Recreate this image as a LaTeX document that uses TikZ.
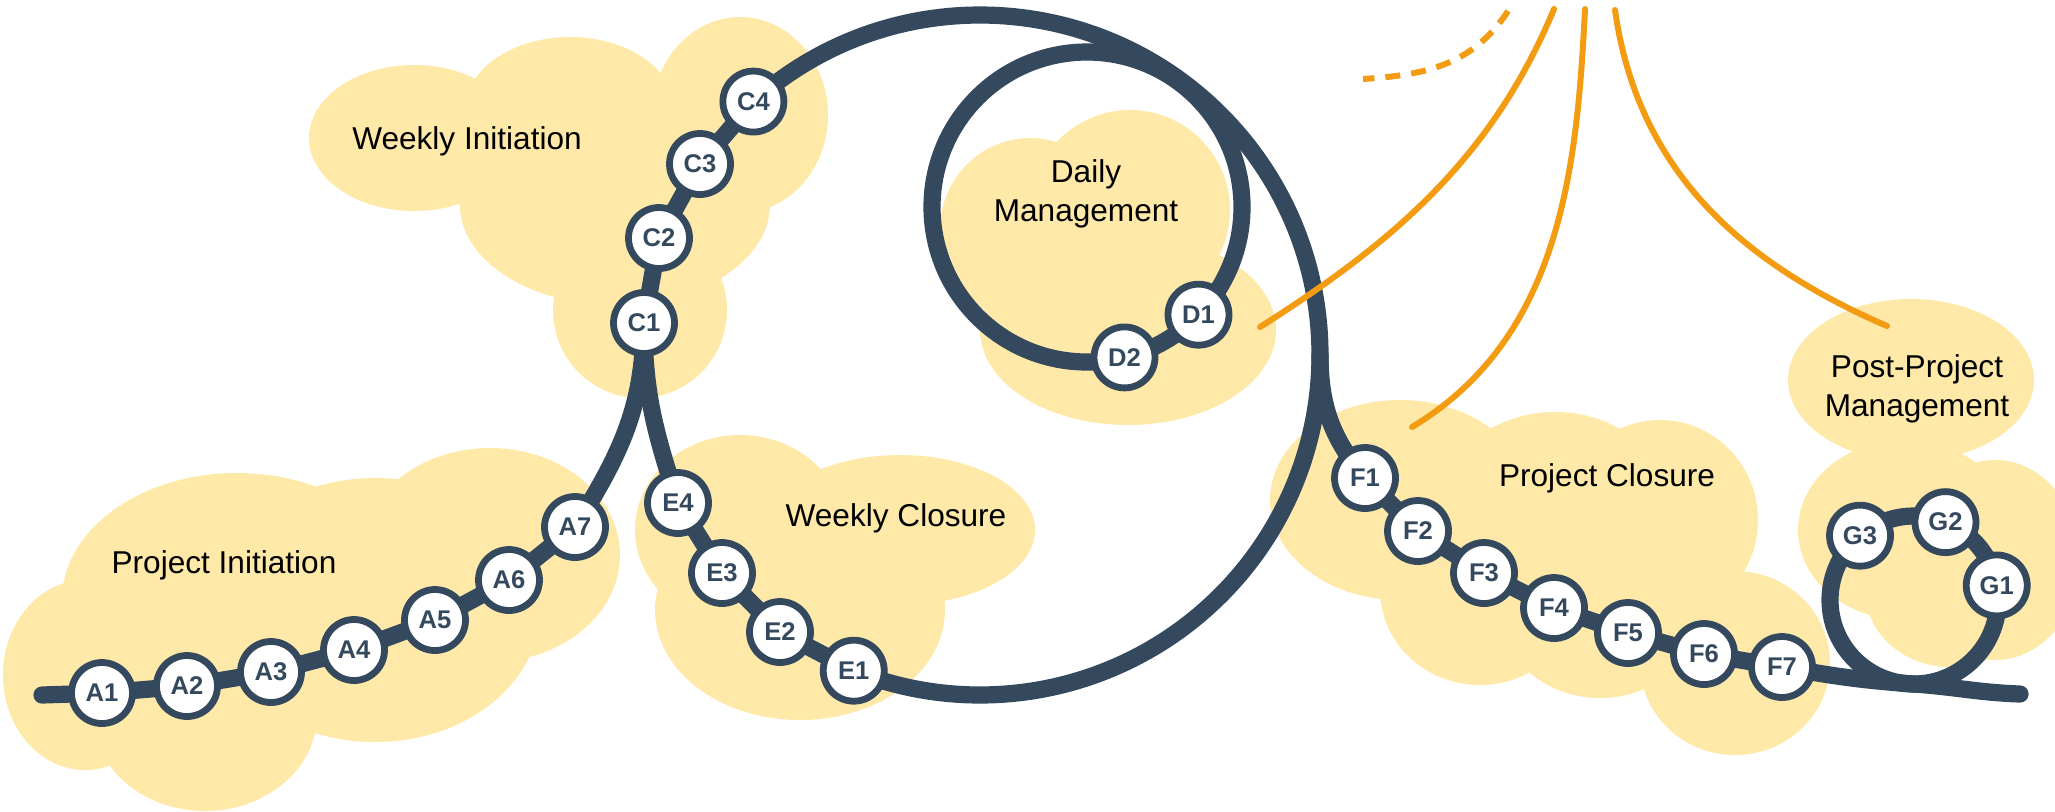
\documentclass[tikz,border=0pt]{standalone}
\usepackage{fontspec}
\setmainfont{Liberation Sans}
\usetikzlibrary{calc}

\definecolor{navy}{HTML}{34495E}
\definecolor{sand}{HTML}{FEE9A8}
\definecolor{amber}{HTML}{F39C12}

\tikzset{
    cloud/.style={fill=sand},
    chain/.style={draw=navy, line width=8.6pt, line cap=round},
    bead/.style={circle, draw=navy, line width=3.4pt, fill=white, minimum size=30.5pt, inner sep=0pt,
        text=navy, font=\fontsize{12.8}{15}\selectfont\bfseries},
    phase/.style={font=\fontsize{15.8}{19.5}\selectfont, align=center},
    ray/.style={draw=amber, line width=3pt, line cap=round}
}

\begin{document}
\begin{tikzpicture}[x=0.5pt, y=0.5pt]
        \useasboundingbox (0,0) rectangle (2055,-811);

        \foreach \x/\y/\rx/\ry in {85/675/82/95, 237/600/175/127, 490/555/130/107, 375/610/165/132, 205/715/112/96,
                414/138/105/73, 570/110/105/73, 740/115/88/98, 615/205/155/100, 640/310/87/88,
                1030/230/90/92, 1130/210/100/100, 1128/330/148/95,
                740/530/105/95, 900/530/135/75, 800/610/145/110,
                1400/500/130/100, 1555/500/110/88, 1660/520/98/100, 1735/663/95/92, 1600/610/100/88, 1480/590/100/95,
                1911/380/123/81, 1905/530/107/90, 1995/560/85/100, 1950/590/85/77}
            {\fill[cloud] (\x,-\y) ellipse [x radius=\rx, y radius=\ry];}

        \foreach \n/\x/\y in {s0/42/695, a1/102/693, a2/187/686, a3/271/672, a4/354/650, a5/435/620, a6/509/580, a7/575/527,
                c1/644/323, c2/659/238, c3/700/164, e2/780/632, e3/722/573, e4/678/503,
                f1/1365/478, f2/1418/531, f3/1484/573, f4/1554/608, f5/1628/633, f6/1704/654, f7/1782/667, tail/2020/694}
            {\coordinate (\n) at (\x,-\y);}

        \coordinate (bigc) at (980,-355);
        \coordinate (c4) at ($(bigc)+(131.8:340)$);
        \coordinate (e1) at ($(bigc)+(-111.8:340)$);
        \coordinate (fork) at ($(bigc)+(0:340)$);
        \coordinate (dayc) at (1087,-207);
        \coordinate (d1) at ($(dayc)+(-44:155)$);
        \coordinate (d2) at ($(dayc)+(-76:155)$);
        \coordinate (gc) at (1914,-600);
        \coordinate (g1) at ($(gc)+(10:84)$);
        \coordinate (g2) at ($(gc)+(68:84)$);
        \coordinate (g3) at ($(gc)+(130:84)$);
        \coordinate (gbot) at ($(gc)+(-90:84)$);

        \draw[chain] (s0) -- (a1) -- (a2) -- (a3) -- (a4) -- (a5) -- (a6) -- (a7) to[out=58,in=-90] (c1);
        \draw[chain] (c1) -- (c2) -- (c3) -- (c4) arc[start angle=131.8, end angle=-111.8, radius=340]
            -- (e2) -- (e3) -- (e4) to[out=108,in=-90] (c1);
        \draw[chain] (d1) arc[start angle=-44, delta angle=360, radius=155];
        \draw[chain] (fork) to[out=-90,in=130] (f1) -- (f2) -- (f3) -- (f4) -- (f5) -- (f6) -- (f7)
            to[out=-10,in=176] (gbot) to[out=-4,in=178] (tail);
        \draw[chain] (gbot) arc[start angle=-90, delta angle=360, radius=84];

        \foreach \n/\t in {a1/A1, a2/A2, a3/A3, a4/A4, a5/A5, a6/A6, a7/A7, c1/C1, c2/C2, c3/C3, c4/C4,
                d1/D1, d2/D2, e1/E1, e2/E2, e3/E3, e4/E4, f1/F1, f2/F2, f3/F3, f4/F4, f5/F5, f6/F6, f7/F7,
                g1/G1, g2/G2, g3/G3}
            {\node[bead] (\t) at (\n) {\t};}

        \node[phase, anchor=base] (projinit) at (224,-573) {Project Initiation};
        \node[phase, anchor=base] (weekinit) at (467,-149) {Weekly Initiation};
        \node[phase] (daily) at (1086,-193.5) {Daily\\Management};
        \node[phase, anchor=base] (weekclose) at (896,-526) {Weekly Closure};
        \node[phase, anchor=base] (projclose) at (1607,-486) {Project Closure};
        \node[phase] (post) at (1917,-388.5) {Post-Project\\Management};

        \draw[ray] (1554,-9) .. controls (1492,-158) and (1394,-242) .. (1260,-327);
        \draw[ray] (1585,-9) .. controls (1577,-170) and (1560,-338) .. (1412,-427);
        \draw[ray] (1615,-10) .. controls (1638,-173) and (1744,-264) .. (1887,-326);
        \draw[ray, line cap=butt, dash pattern=on 7.5pt off 5.5pt] (1508,-11) .. controls (1472,-66) and (1424,-75) .. (1363,-79);
    \end{tikzpicture}
\end{document}
